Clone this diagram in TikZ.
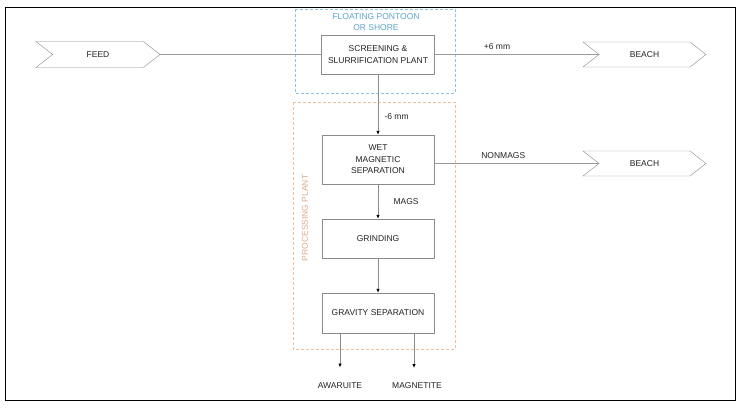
\documentclass[tikz,border=0pt]{standalone}
\usepackage{fontspec}
\setmainfont{Liberation Sans}
\usepackage{xcolor}
\usepackage{tikz}
\usetikzlibrary{shapes.symbols, arrows.meta, positioning}
\definecolor{floatblue}{RGB}{140,195,222}
\definecolor{floattext}{RGB}{95,163,200}
\definecolor{plantorange}{HTML}{F2BE9C}
\definecolor{boxgray}{HTML}{8A8A8A}
\definecolor{linegray}{HTML}{9A9A9A}
\definecolor{textmain}{HTML}{222222}
\tikzstyle{unit} = [rectangle, draw=boxgray, fill=white, align=center, inner sep=1pt, text=textmain]
\tikzstyle{stream} = [signal, signal from=west, signal to=east, signal pointer angle=76, draw=boxgray, fill=white, text=textmain, inner sep=0pt]
\tikzstyle{pipe} = [draw=linegray, line width=0.9pt]
\tikzstyle{arrow} = [draw=boxgray, line width=0.9pt, -{Latex[black, length=4pt, width=3.5pt]}]
\tikzstyle{zone} = [dash pattern=on 3pt off 2pt, line width=0.8pt]

\begin{document}
\begin{tikzpicture}[x=1pt, y=-1pt, every node/.style={font=\fontsize{8.5}{11.5}\selectfont, text=textmain}]
    \useasboundingbox (0,0) rectangle (746,412);
    \draw[line width=0.9pt] (5,7) rectangle (735,400);

    % zones
    \draw[zone, draw=floatblue] (295,9) rectangle (455,93);
    \draw[zone, draw=plantorange] (293,102) rectangle (455,349);
    \node[text=floattext, align=center] (pontoon) at (376,22) {FLOATING PONTOON\\OR SHORE};
    \node[text=plantorange!90!black, rotate=90] (plant) at (305,218) {PROCESSING PLANT};

    % streams in and out
    \node[stream, minimum width=124pt, minimum height=26pt] (feed) at (98,54.5) {FEED};
    \node[stream, minimum width=123pt, minimum height=25pt] (beachtop) at (644.5,54.5) {BEACH};
    \node[stream, minimum width=123pt, minimum height=25pt] (beachmid) at (644.5,163.5) {BEACH};

    % plant units
    \node[unit, minimum width=113pt, minimum height=39pt] (screen) at (378,54.5) {SCREENING \&\\SLURRIFICATION PLANT};
    \node[unit, minimum width=112pt, minimum height=49pt] (wetmag) at (378,159.5) {WET\\MAGNETIC\\SEPARATION};
    \node[unit, minimum width=112pt, minimum height=39pt] (grind) at (378,238.5) {GRINDING};
    \node[unit, minimum width=112pt, minimum height=40pt] (gravity) at (378,313) {GRAVITY SEPARATION};

    \node (awaruite) at (340,386) {AWARUITE};
    \node (magnetite) at (417,386) {MAGNETITE};
    \coordinate (magtap) at (414,333);
    \coordinate (magend) at (414,368);

    % connections
    \draw[pipe] (feed.east) -- (screen.west);
    \draw[pipe] (screen.east) -- (beachtop.west) node[pos=0.38, above=1pt] {+6 mm};
    \draw[pipe] (beachmid.west -| wetmag.east) -- (beachmid.west) node[pos=0.42, above=1pt] {NONMAGS};
    \draw[arrow] (screen) -- (wetmag);
    \node[anchor=west] (fines) at (381,117) {-6 mm};
    \draw[arrow] (wetmag) -- (grind);
    \node[anchor=west] (mags) at (390,202) {MAGS};
    \draw[arrow] (grind) -- (gravity);
    \draw[arrow, shorten >=12pt] (gravity.south -| awaruite) -- (awaruite);
    \draw[arrow] (magtap) -- (magend);
\end{tikzpicture}
\end{document}
